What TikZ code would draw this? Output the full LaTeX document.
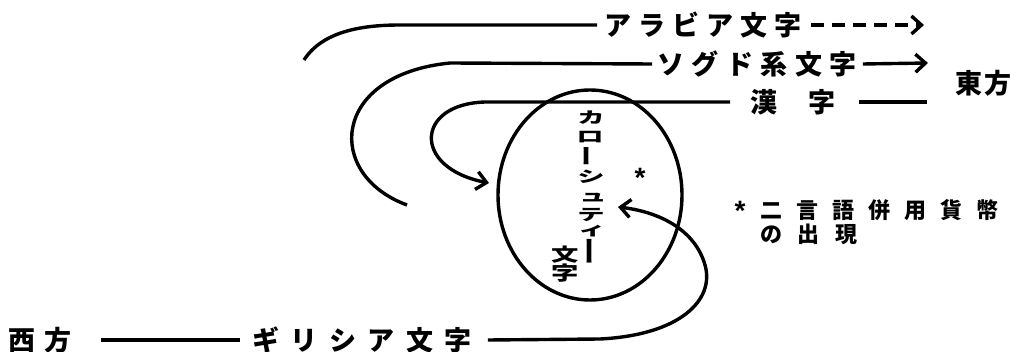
\documentclass[tikz,border=0pt]{standalone}
\usepackage{fontspec}
\usepackage{graphicx}
\usetikzlibrary{arrows.meta,shapes.geometric}
\newfontfamily\jp{Noto Sans CJK JP}
\newfontfamily\astfont{Liberation Sans}
\let\lsend\relax
\newcommand\ls[2][12pt]{\def\lsgap{#1}\lsA#2\lsend}
\def\lsA#1#2{#1\ifx#2\lsend\else\hspace{\lsgap}\expandafter\lsA\expandafter#2\fi}
\newcommand\sq[1]{\scalebox{1.05}[0.6]{#1}}
\tikzset{
  ln/.style={line width=3.4pt},
  arr/.style={ln,-{Straight Barb[length=10pt,width=18pt]}},
  tx/.style={inner sep=0pt, anchor=west, font=\jp\bfseries\fontsize{27}{29}\selectfont},
  txs/.style={inner sep=0pt, anchor=west, align=left, font=\jp\bfseries\fontsize{22}{24}\selectfont},
  vt/.style={inner sep=0pt, font=\jp\bfseries\fontsize{26}{26}\selectfont},
  st/.style={inner sep=0pt, font=\astfont\bfseries\fontsize{28}{28}\selectfont},
}
\begin{document}
\begin{tikzpicture}[x=1pt,y=-1pt]
\useasboundingbox (0,0) rectangle (1019,352);
% coordinates for free ends
\coordinate (aS) at (304,60);
\coordinate (aE) at (924,25);
\coordinate (sS) at (407,205);
\coordinate (sE) at (928,63);
\coordinate (kT) at (489,183);
\coordinate (kE) at (927,102);
\coordinate (gT) at (618,207);
% texts
\node[tx] (arab) at (604,25) {\ls[7pt]{アラビア文字}};
\node[tx] (sog) at (657,64) {\ls[7.5pt]{ソグド系文字}};
\node[tx] (kan) at (750,102) {\ls[31pt]{漢字}};
\node[tx] (east) at (955,83) {\ls[2pt]{東方}};
\node[tx] (nishi) at (8,340) {\ls[9pt]{西方}};
\node[tx] (gre) at (252,340) {\ls[11.5pt]{ギリシア文字}};
\node[st] (ast2) at (740,211) {*};
\node[txs] (coin) at (760,222) {\ls[14pt]{二言語併用貨幣}\\[0pt]\ls[15.5pt]{の出現}};
% ellipse
\node[ln, draw, ellipse, minimum width=184pt, minimum height=210pt, inner sep=0pt] (ell) at (590,195) {};
% vertical text
\node[vt] (v1) at (591,118) {\sq{カ}};
\node[vt] (v2) at (590,137) {\sq{ロ}};
\node[vt] (v3) at (590,156) {\rotatebox{90}{\scalebox{0.8}[1]{ー}}};
\node[vt] (v4) at (591,177) {\sq{シ}};
\node[vt] (v5) at (593,198) {\sq{ュ}};
\node[vt] (v6) at (591,215) {\sq{テ}};
\node[vt] (v7) at (592,231) {\sq{ィ}};
\node[vt] (v8) at (593,251) {\rotatebox{90}{\scalebox{1.1}[1]{ー}}};
\node[vt] (m1) at (565,255) {\scalebox{1.05}[0.7]{文}};
\node[vt] (m2) at (565,273) {\scalebox{1.05}[0.75]{字}};
\node[st] (ast1) at (640,178) {*};
% Arabic
\draw[ln] (aS) .. controls (322,32) and (360,25) .. (400,25) -- ([xshift=-7pt]arab.west);
\draw[arr, dash pattern=on 13pt off 8pt] ([xshift=10pt]arab.east) -- (aE);
% Sogdian
\draw[ln] (sS) .. controls (325,175) and (330,75) .. (450,63) -- ([xshift=-5pt]sog.west);
\draw[arr] ([xshift=6pt]sog.east) -- (sE);
% Kanji
\draw[arr] ([xshift=-20pt]kan.west) -- (485,102) .. controls (415,104) and (412,168) .. (kT);
\draw[ln] ([xshift=24pt]kan.east) -- (kE);
% Greek
\draw[ln] ([xshift=30pt]nishi.east) -- ([xshift=-12pt]gre.west);
\draw[arr] ([xshift=16pt]gre.east) -- (600,339) .. controls (680,335) and (715,300) .. (705,265) .. controls (695,230) and (660,212) .. (gT);
\end{tikzpicture}
\end{document}
